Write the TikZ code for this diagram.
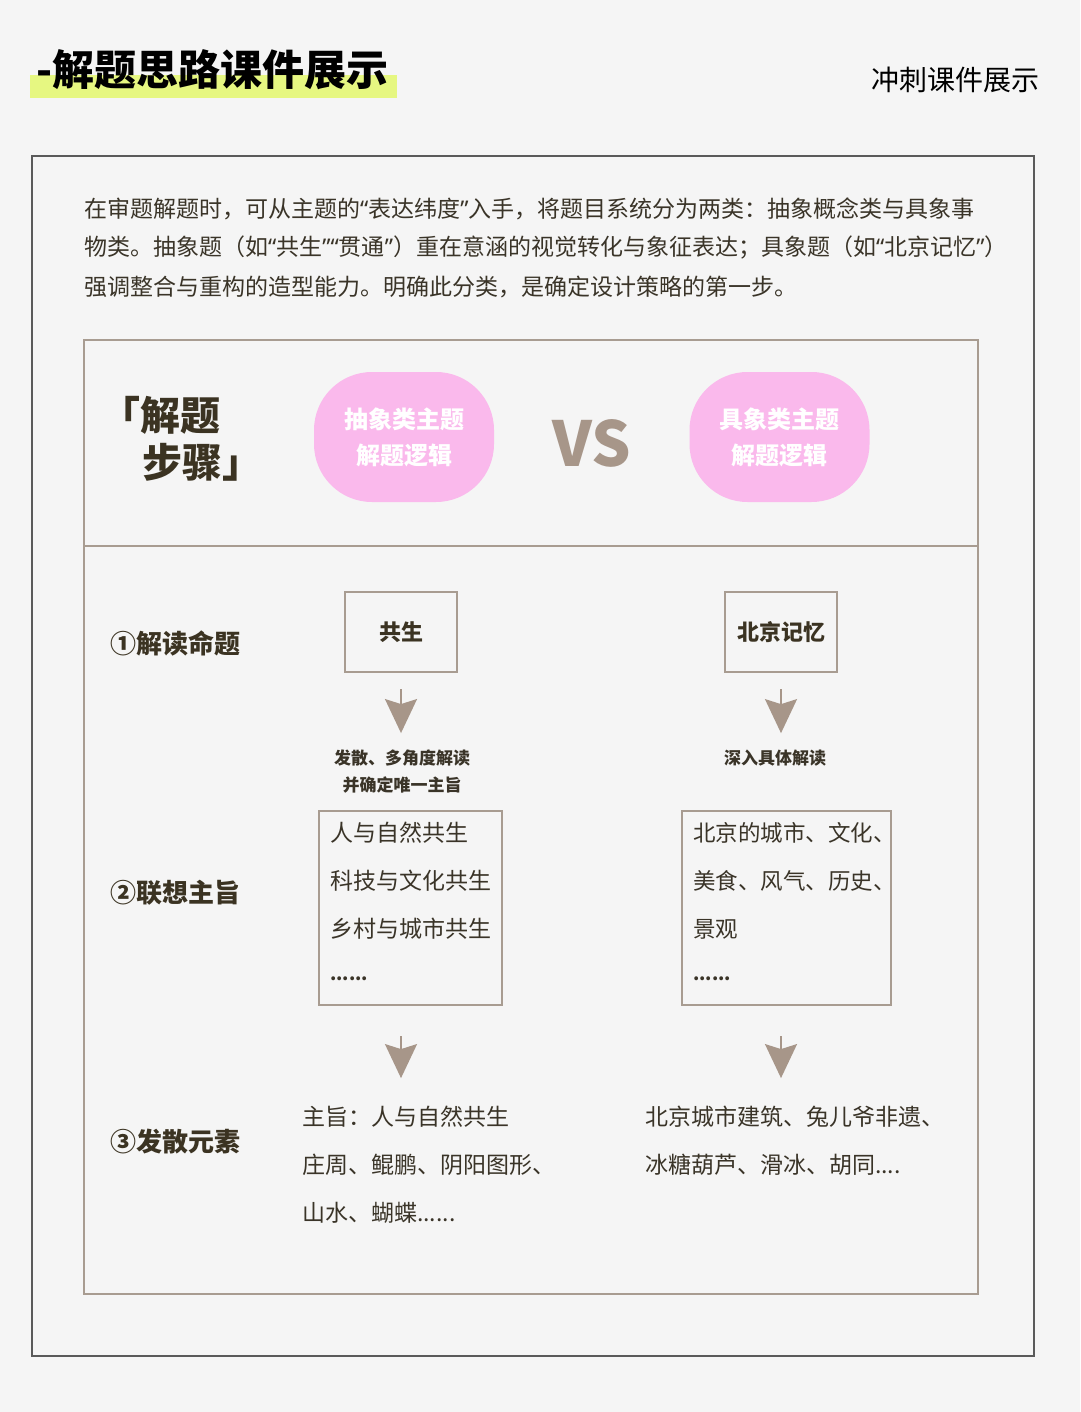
\documentclass[tikz,border=0pt]{standalone}
\usepackage{fontspec}
\setmainfont{Noto Sans CJK SC}
\newfontfamily\qf{Noto Sans}
\newcommand{\myLQ}{{\qf “}}
\newcommand{\myRQ}{{\qf ”}}
\usetikzlibrary{arrows.meta}
\definecolor{bgc}{HTML}{F5F5F5}
\definecolor{outerc}{HTML}{5A5A5A}
\definecolor{taupe}{HTML}{A79689}
\definecolor{boxc}{HTML}{A89C91}
\definecolor{txt}{HTML}{3A3428}
\definecolor{lbl}{HTML}{3B3322}
\definecolor{pinkc}{HTML}{FAB9EC}
\definecolor{hl}{HTML}{E6F781}
\tikzset{
  fs/.style={font=\fontsize{#1pt}{#1pt}\selectfont},
  txtnode/.style={inner sep=0pt, text=txt, anchor=west},
  rowlabel/.style={inner sep=0pt, text=lbl, anchor=west, font=\fontsize{26pt}{30pt}\selectfont\bfseries},
  topicbox/.style={draw=boxc, line width=2pt, minimum width=112pt, minimum height=80pt, text=lbl, font=\fontsize{22pt}{26pt}\selectfont\bfseries},
  listbox/.style={draw=boxc, line width=2pt, inner sep=0pt},
  pill/.style={fill=pinkc, rounded corners=58pt, minimum width=180pt, minimum height=130pt, text=white, align=center, font=\fontsize{24pt}{36pt}\selectfont\bfseries},
  arr/.style={draw=taupe, line width=2pt, -{Stealth[length=34pt,width=32pt,inset=5pt]}},
}
\begin{document}
\begin{tikzpicture}[x=1pt,y=-1pt]
\fill[bgc] (0,0) rectangle (1080,1412);
\useasboundingbox (0,0) rectangle (1080,1412);
% header
\fill[hl] (30,75) rectangle (397,98);
\node[inner sep=0pt, anchor=west, text=black, font=\fontsize{42pt}{44pt}\selectfont\bfseries] (title) at (36,70) {-解题思路课件展示};
\node[inner sep=0pt, anchor=east, text=black, font=\fontsize{28pt}{32pt}\selectfont] (sub) at (1040,80) {冲刺课件展示};
% frames
\draw[outerc, line width=1.5pt] (32,156) rectangle (1034,1356);
\draw[boxc, line width=2pt] (84,340) rectangle (978,1294);
\draw[boxc, line width=2pt] (84,546) -- (978,546);
% paragraph
\node[txtnode, fs=23] (p1) at (84,209) {在审题解题时，可从主题的\myLQ 表达纬度\myRQ 入手，将题目系统分为两类：抽象概念类与具象事};
\node[txtnode, fs=23] (p2) at (84,248) {物类。抽象题（如\myLQ 共生\myRQ\myLQ 贯通\myRQ）重在意涵的视觉转化与象征表达；具象题（如\myLQ 北京记忆\myRQ）};
\node[txtnode, fs=23] (p3) at (84,287) {强调整合与重构的造型能力。明确此分类，是确定设计策略的第一步。};
% top row
\node[inner sep=0pt, anchor=west, text=lbl, font=\fontsize{40pt}{44pt}\selectfont\bfseries] (s1) at (100,415) {「解题};
\node[inner sep=0pt, anchor=west, text=lbl, font=\fontsize{40pt}{44pt}\selectfont\bfseries] (s2) at (142,462) {步骤」};
\node[pill] (pa) at (404,437) {抽象类主题\\解题逻辑};
\node[pill] (pb) at (779.5,437) {具象类主题\\解题逻辑};
\node[inner sep=0pt, text=taupe, font=\fontsize{62pt}{64pt}\selectfont\bfseries] (vs) at (592,443) {VS};
% row 1
\node[rowlabel] (r1) at (110,643) {①解读命题};
\node[topicbox] (gs) at (401,632) {共生};
\node[topicbox] (bj) at (781,632) {北京记忆};
\node[inner sep=0pt, text=txt, font=\fontsize{17pt}{20pt}\selectfont\bfseries] (t1a) at (402,758) {发散、多角度解读};
\node[inner sep=0pt, text=txt, font=\fontsize{17pt}{20pt}\selectfont\bfseries] (t1b) at (402,785) {并确定唯一主旨};
\node[inner sep=0pt, text=txt, font=\fontsize{17pt}{20pt}\selectfont\bfseries] (t2) at (775,758) {深入具体解读};
\draw[arr] ([yshift=-16pt]gs.south) -- ([yshift=16.5pt]gs.south |- t1a.north);
\draw[arr] ([yshift=-16pt]bj.south) -- ([yshift=16.5pt]bj.south |- t2.north);
% row 2
\node[rowlabel] (r2) at (110,893) {②联想主旨};
\node[listbox, minimum width=183pt, minimum height=194pt] (lb) at (410.5,908) {};
\node[listbox, minimum width=209pt, minimum height=194pt] (rb) at (786.5,908) {};
\node[txtnode, fs=23] (l1) at (330,833) {人与自然共生};
\node[txtnode, fs=23] (l2) at (330,881) {科技与文化共生};
\node[txtnode, fs=23] (l3) at (330,929) {乡村与城市共生};
\node[txtnode, fs=18] (l4) at (330,979) {\bfseries ......};
\node[txtnode, fs=22.5] (m1) at (693,833) {北京的城市、文化、};
\node[txtnode, fs=22.5] (m2) at (693,881) {美食、风气、历史、};
\node[txtnode, fs=22.5] (m3) at (693,929) {景观};
\node[txtnode, fs=18] (m4) at (693,979) {\bfseries ......};
% row 3
\node[rowlabel] (r3) at (110,1142) {③发散元素};
\node[txtnode, fs=23] (e1) at (302,1117) {主旨：人与自然共生};
\node[txtnode, fs=23] (e2) at (302,1165) {庄周、鲲鹏、阴阳图形、};
\node[txtnode, fs=23] (e3) at (302,1213) {山水、蝴蝶......};
\node[txtnode, fs=23] (f1) at (645,1117) {北京城市建筑、兔儿爷非遗、};
\node[txtnode, fs=23] (f2) at (645,1165) {冰糖葫芦、滑冰、胡同....};
\draw[arr] ([yshift=-30pt]gs.south |- lb.south) -- ([yshift=28pt]gs.south |- e1.north);
\draw[arr] ([yshift=-30pt]bj.south |- rb.south) -- ([yshift=28pt]bj.south |- f1.north);
\end{tikzpicture}
\end{document}
